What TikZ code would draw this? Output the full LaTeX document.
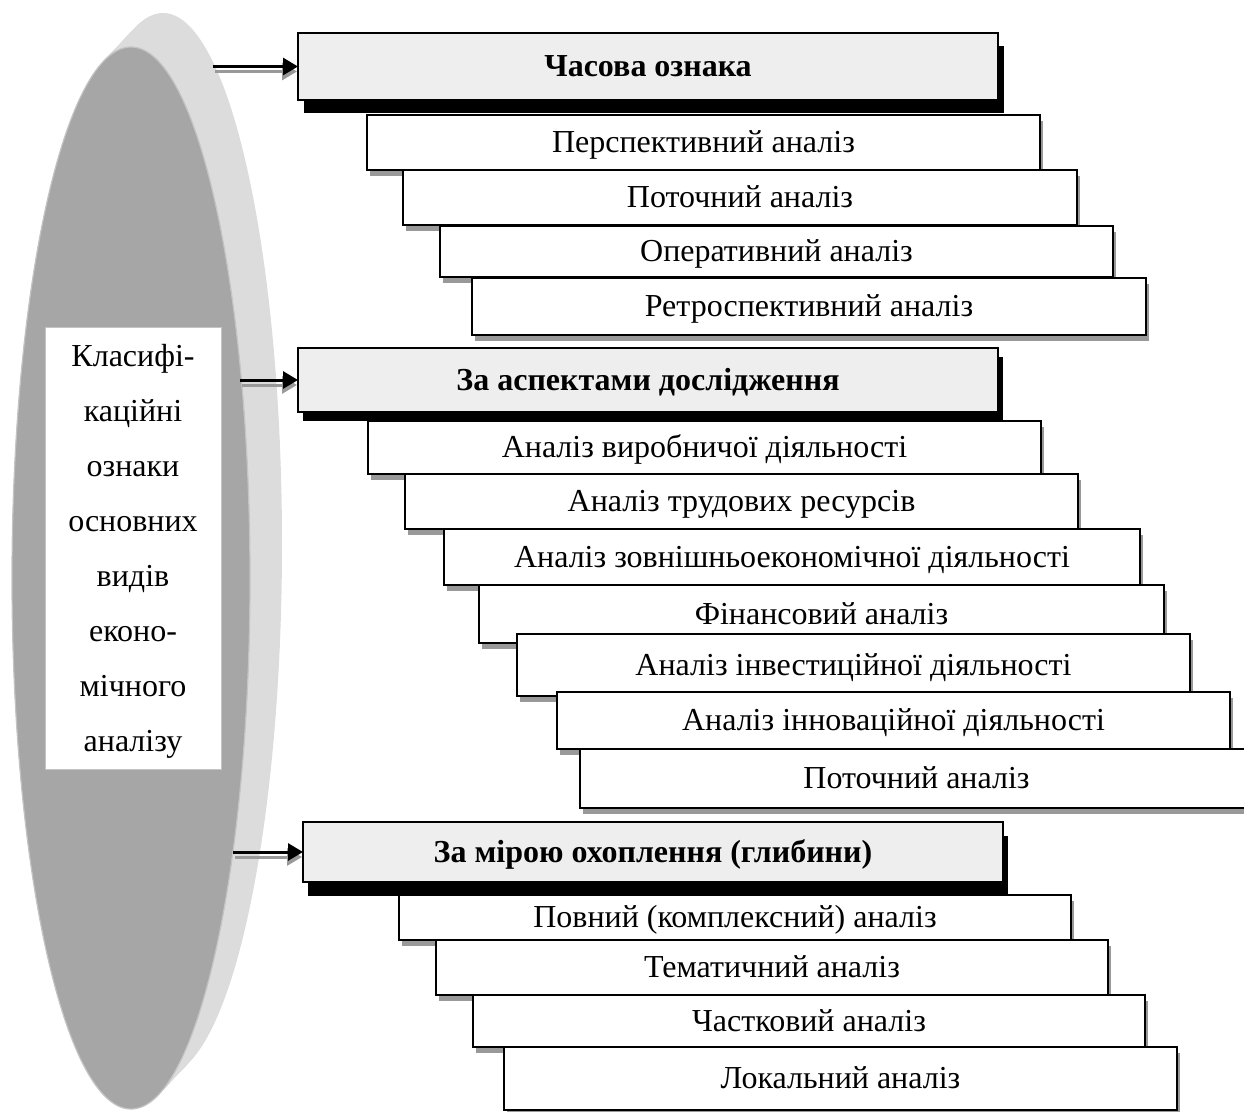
\documentclass[tikz,border=0pt]{standalone}
\usepackage{fontspec}
\setmainfont{Liberation Serif}
\usetikzlibrary{shadows,arrows.meta}
\definecolor{hdrfill}{HTML}{EEEEEE}
\definecolor{subshadow}{HTML}{999999}
\definecolor{ellfront}{HTML}{A6A6A6}
\definecolor{ellside}{HTML}{DCDCDC}
\definecolor{ellrim}{HTML}{C4C4C4}
\newcommand\mybox[7]{%
  \node[#1, minimum width={(#5-#3)*1pt}, minimum height={(#6-#4)*1pt}] (#2) at ({(#3+#5)/2},{(#4+#6)/2}) {#7};}
\begin{document}
\begin{tikzpicture}[x=1pt,y=-1pt,
  boxfont/.style={font=\fontsize{32}{38}\selectfont},
  hdr/.style={draw=black, line width=1.5pt, fill=hdrfill, inner sep=0pt, outer sep=0pt,
     font=\fontsize{32}{38}\selectfont\bfseries, text height=24pt, text depth=4pt},
  hdrsh/.style 2 args={general shadow={fill=black, shadow xshift=#1pt, shadow yshift=-#2pt}},
  sub/.style={draw=black, line width=1.5pt, fill=white, inner sep=0pt, outer sep=0pt,
     boxfont, text height=24pt, text depth=4pt,
     general shadow={fill=subshadow, shadow xshift=3pt, shadow yshift=-6pt}},
  arrline/.style={line width=3pt, -{Triangle[length=15pt,width=17pt]}},
  arrshade/.style={line width=3pt, subshadow, -{Triangle[length=15pt,width=17pt]}, shorten >=3pt,
     transform canvas={xshift=2pt, yshift=-5pt}}
]
\useasboundingbox (0,0) rectangle (1244,1111);
\clip (0,0) rectangle (1244,1111);
% ellipse (3D disc)
\foreach \t in {0,...,40}{
  \fill[ellside] ({131+32*\t/40},{578-34*\t/40}) ellipse [x radius=119, y radius=531];
}
\fill[ellfront, draw=ellrim, line width=1.2pt] (131,578) ellipse [x radius=119, y radius=531];
\node[draw=ellrim, line width=1pt, fill=white, minimum width=176pt, minimum height=442pt,
  inner sep=0pt, align=center, font=\fontsize{32}{55}\selectfont] (lbl) at (133,548) {};
\node[align=center, font=\fontsize{32}{55}\selectfont, inner sep=0pt] (lbltext) at (133,551)
  {Класифі-\\каційні\\ознаки\\основних\\видів\\еконо-\\мічного\\аналізу};

% group 1
\mybox{hdr,hdrsh={6}{13}}{h1}{298}{33}{998}{100}{Часова ознака}
\mybox{sub}{s11}{367}{115}{1040}{170}{Перспективний аналіз}
\mybox{sub}{s12}{403}{170}{1077}{225}{Поточний аналіз}
\mybox{sub}{s13}{440}{226}{1113}{277}{Оперативний аналіз}
\mybox{sub}{s14}{472}{278}{1146}{335}{Ретроспективний аналіз}
% group 2
\mybox{hdr,hdrsh={5}{9}}{h2}{298}{348}{998}{412}{За аспектами дослідження}
\mybox{sub}{s21}{368}{421}{1041}{474}{Аналіз виробничої діяльності}
\mybox{sub}{s22}{405}{474}{1078}{529}{Аналіз трудових ресурсів}
\mybox{sub}{s23}{444}{529}{1140}{585}{Аналіз зовнішньоекономічної діяльності}
\mybox{sub}{s24}{479}{585}{1164}{643}{Фінансовий аналіз}
\mybox{sub}{s25}{517}{634}{1190}{696}{Аналіз інвестиційної діяльності}
\mybox{sub}{s26}{557}{692}{1230}{749}{Аналіз інноваційної діяльності}
\mybox{sub}{s27}{580}{749}{1253}{808}{Поточний аналіз}
% group 3
\mybox{hdr,hdrsh={5}{14}}{h3}{303}{822}{1003}{882}{За мірою охоплення (глибини)}
\mybox{sub}{s31}{399}{895}{1071}{940}{Повний (комплексний) аналіз}
\mybox{sub}{s32}{436}{940}{1108}{995}{Тематичний аналіз}
\mybox{sub}{s33}{473}{995}{1145}{1047}{Частковий аналіз}
\mybox{sub}{s34}{504}{1047}{1177}{1110}{Локальний аналіз}

% arrows
\coordinate (a1) at (213,0);
\coordinate (a2) at (240,0);
\coordinate (a3) at (233,0);
\draw[arrshade] (a1 |- h1.west) -- (h1.west);
\draw[arrline] (a1 |- h1.west) -- (h1.west);
\draw[arrshade] (a2 |- h2.west) -- (h2.west);
\draw[arrline] (a2 |- h2.west) -- (h2.west);
\draw[arrshade] (a3 |- h3.west) -- (h3.west);
\draw[arrline] (a3 |- h3.west) -- (h3.west);
\end{tikzpicture}
\end{document}
